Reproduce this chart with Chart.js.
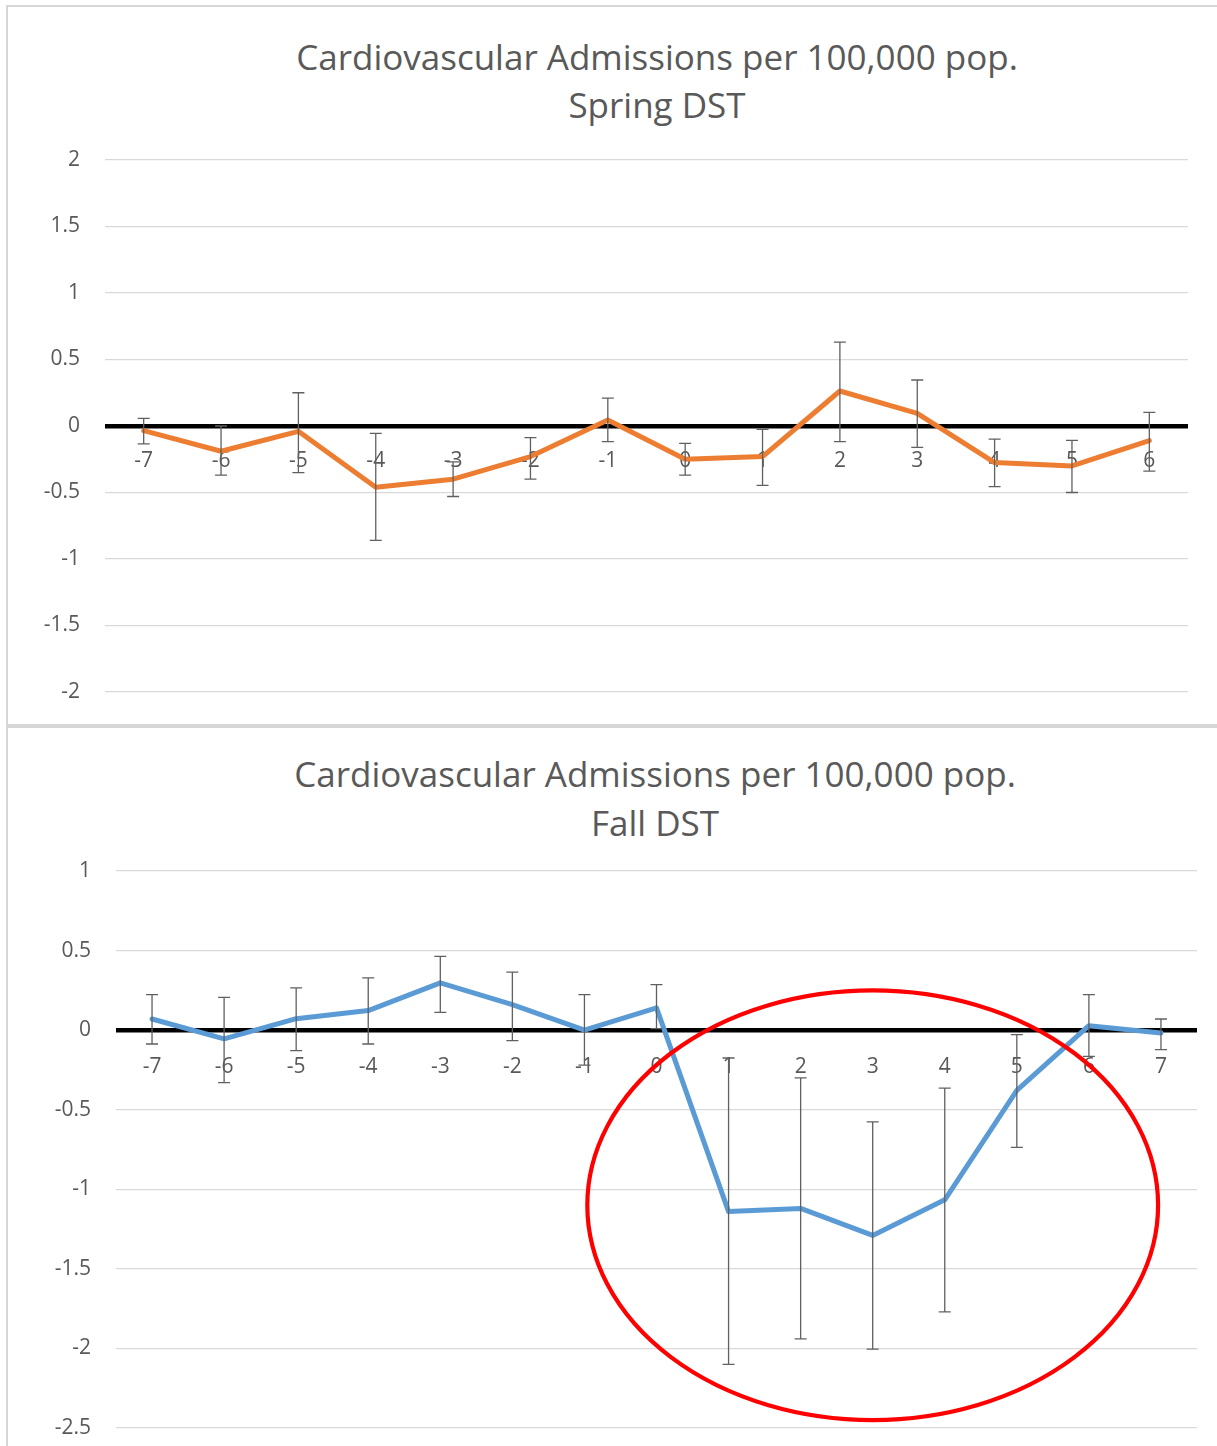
<!DOCTYPE html>
<html>
<head>
<meta charset="utf-8">
<script src="https://cdn.jsdelivr.net/npm/chart.js@4.4.0/dist/chart.umd.min.js"></script>
<style>
  body { margin: 0; width: 1217px; height: 1446px; overflow: hidden; background: #fff; position: relative; }
  .frame { position: absolute; left: 6px; width: 1240px; border: 2px solid #d6d6d6; }
  #frameTop { top: 5px; height: 717px; }
  #frameBottom { top: 726px; height: 760px; }
  canvas { position: absolute; left: 9px; }
  #springChart { top: 8px; }
  #fallChart { top: 729px; }
  .title {
    position: absolute; transform: translateX(-50%); white-space: nowrap; text-align: center;
    font-family: "Open Sans", sans-serif; font-size: 35px; line-height: 48px; color: #595959;
  }
  #springTitle { left: 657px; top: 33px; }
  #fallTitle { left: 655px; top: 749px; line-height: 49px; }
</style>
</head>
<body>
<div class="frame" id="frameTop"></div>
<div class="frame" id="frameBottom"></div>
<div class="title" id="springTitle">Cardiovascular Admissions per 100,000 pop.<br>Spring DST</div>
<div class="title" id="fallTitle">Cardiovascular Admissions per 100,000 pop.<br>Fall DST</div>
<canvas id="springChart" width="1208" height="716"></canvas>
<canvas id="fallChart" width="1208" height="717"></canvas>
<script>
// days relative to the DST change
const springDays = ['-7', '-6', '-5', '-4', '-3', '-2', '-1', '0', '1', '2', '3', '4', '5', '6'];
const springMean = [-0.035, -0.19, -0.04, -0.46, -0.40, -0.23, 0.045, -0.25, -0.23, 0.263, 0.095, -0.275, -0.30, -0.11];
const springLow  = [-0.135, -0.37, -0.35, -0.86, -0.53, -0.40, -0.118, -0.37, -0.446, -0.118, -0.16, -0.456, -0.50, -0.34];
const springHigh = [0.058, 0.0, 0.25, -0.055, -0.27, -0.088, 0.21, -0.13, -0.025, 0.63, 0.346, -0.098, -0.108, 0.103];

const fallDays = ['-7', '-6', '-5', '-4', '-3', '-2', '-1', '0', '1', '2', '3', '4', '5', '6', '7'];
const fallMean = [0.07, -0.055, 0.072, 0.123, 0.297, 0.16, 0.0, 0.14, -1.14, -1.12, -1.29, -1.066, -0.379, 0.028, -0.018];
const fallLow  = [-0.087, -0.33, -0.129, -0.087, 0.112, -0.066, -0.22, 0.01, -2.10, -1.94, -2.005, -1.77, -0.737, -0.165, -0.123];
const fallHigh = [0.223, 0.206, 0.265, 0.328, 0.464, 0.364, 0.223, 0.286, -0.175, -0.30, -0.577, -0.364, -0.028, 0.223, 0.07];

const textColor = '#595959';
const fontFamily = '"Open Sans", sans-serif';

function errorBars(low, high) {
    return {
        id: 'errorBars',
        afterDatasetsDraw(chart) {
            const {ctx, scales: {x, y}} = chart;
            ctx.save();
            ctx.strokeStyle = '#606060';
            ctx.lineWidth = 1.3;
            low.forEach((lo, i) => {
                const px = x.getPixelForValue(i);
                const yLo = y.getPixelForValue(lo);
                const yHi = y.getPixelForValue(high[i]);
                ctx.beginPath();
                ctx.moveTo(px, yHi); ctx.lineTo(px, yLo);
                ctx.moveTo(px - 6, yHi); ctx.lineTo(px + 6, yHi);
                ctx.moveTo(px - 6, yLo); ctx.lineTo(px + 6, yLo);
                ctx.stroke();
            });
            ctx.restore();
        }
    };
}

// red ring drawn around days 0..7 of the fall chart
const highlightRing = {
    id: 'highlightRing',
    afterDraw(chart) {
        const {ctx, scales: {x, y}} = chart;
        const step = x.getPixelForValue(1) - x.getPixelForValue(0);
        const cx = x.getPixelForValue(10);
        const cy = y.getPixelForValue(-1.1);
        const rx = step * 3.96;
        const ry = Math.abs(y.getPixelForValue(0.25) - cy);
        ctx.save();
        ctx.strokeStyle = '#ff0000';
        ctx.lineWidth = 4.2;
        ctx.beginPath();
        ctx.ellipse(cx, cy, rx, ry, 0, 0, Math.PI * 2);
        ctx.stroke();
        ctx.restore();
    }
};

function makeChart(el, opts) {
    return new Chart(el, {
        type: 'line',
        data: {
            labels: opts.labels,
            datasets: [{
                data: opts.values,
                borderColor: opts.color,
                borderWidth: 5,
                pointRadius: 0,
                tension: 0,
                borderJoinStyle: 'round',
                borderCapStyle: 'round',
            }]
        },
        options: {
            responsive: false,
            animation: false,
            events: [],
            layout: {padding: opts.padding},
            plugins: {
                legend: {display: false},
                tooltip: {enabled: false},
                title: {display: false},
            },
            scales: {
                x: {
                    type: 'category',
                    offset: true,
                    position: {y: 0},
                    afterFit: (scale) => { scale.height = 0; },
                    grid: {display: false, drawTicks: false},
                    border: {display: false},
                    ticks: {
                        color: textColor,
                        font: {family: fontFamily, size: 21},
                        padding: opts.xPad,
                        maxRotation: 0,
                        autoSkip: false,
                    }
                },
                y: {
                    min: opts.min,
                    max: opts.max,
                    afterFit: (scale) => { scale.width = opts.axisWidth; },
                    grid: {
                        drawTicks: true,
                        tickLength: 25,
                        tickColor: 'rgba(0,0,0,0)',
                        color: (c) => c.tick && c.tick.value === 0 ? '#000000' : '#d9d9d9',
                        lineWidth: (c) => c.tick && c.tick.value === 0 ? 4.5 : 1.2,
                    },
                    border: {display: false},
                    ticks: {
                        stepSize: 0.5,
                        color: textColor,
                        font: {family: fontFamily, size: 21},
                        padding: 0,
                        callback: (v) => String(Number(v.toFixed(1))),
                    }
                }
            }
        },
        plugins: opts.plugins,
    });
}

makeChart(document.getElementById('springChart'), {
    labels: springDays,
    values: springMean,
    color: '#ED7D31',
    min: -2, max: 2,
    axisWidth: 96,
    padding: {top: 152, right: 29, bottom: 32, left: 0},
    xPad: 22,
    plugins: [errorBars(springLow, springHigh)],
});

makeChart(document.getElementById('fallChart'), {
    labels: fallDays,
    values: fallMean,
    color: '#5B9BD5',
    min: -2.5, max: 1,
    axisWidth: 107,
    padding: {top: 142, right: 20, bottom: 18, left: 0},
    xPad: 24,
    plugins: [errorBars(fallLow, fallHigh), highlightRing],
});
</script>
</body>
</html>
